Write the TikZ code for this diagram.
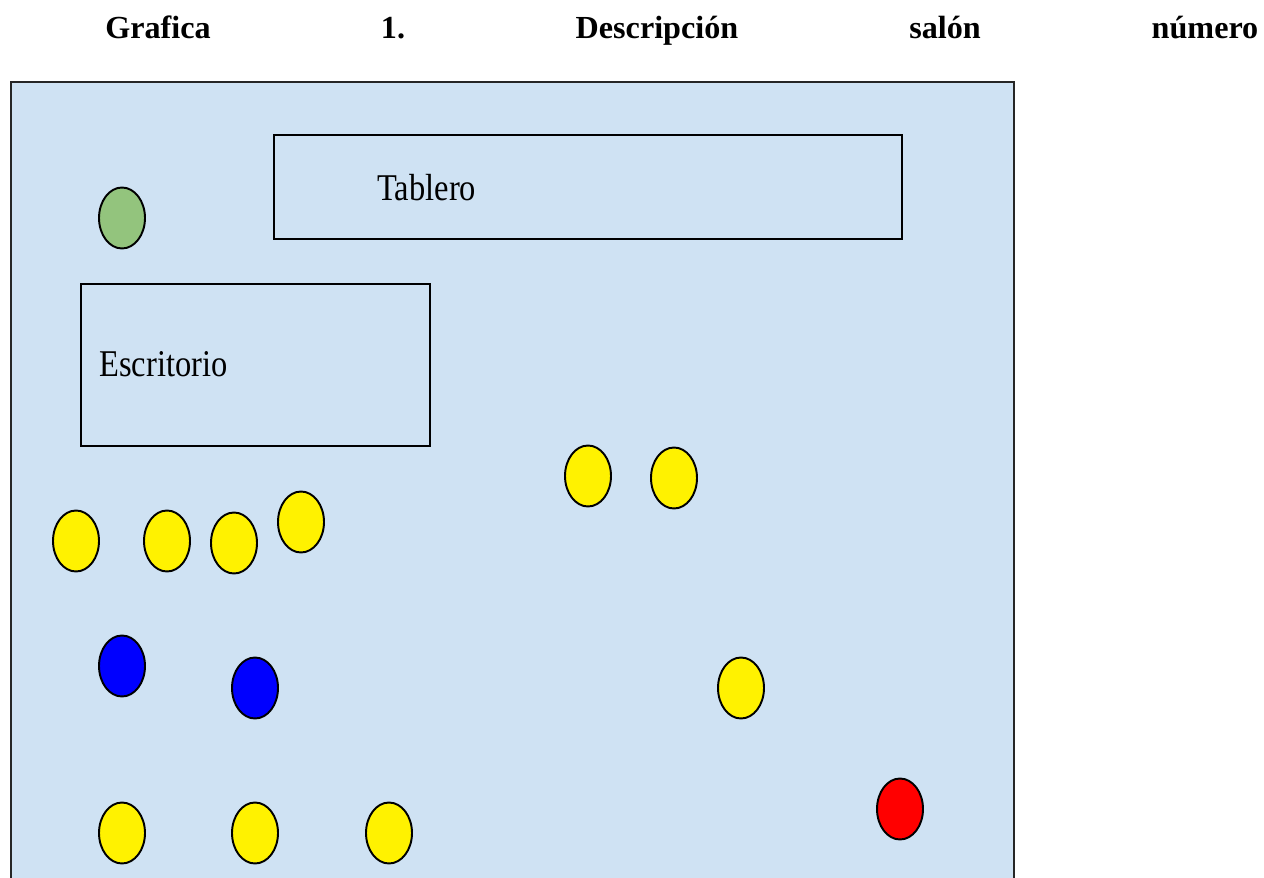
\documentclass[tikz,border=0pt]{standalone}
\usepackage{fontspec}
\setmainfont{Liberation Serif}
\newfontfamily\narrowserif[FakeStretch=0.86]{Liberation Serif}
\usepackage{tikz}
\usetikzlibrary{shapes.geometric}

\definecolor{roomblue}{RGB}{207,226,243}
\definecolor{teachergreen}{RGB}{147,196,125}

\begin{document}
\begin{tikzpicture}[
            x=0.02cm, y=-0.02cm,
            seat/.style={ellipse,draw,line width=1.1pt,minimum width=0.92cm,minimum height=1.22cm,inner sep=0pt},
            title word/.style={anchor=base,font=\fontsize{18.3}{22}\selectfont\bfseries},
            label text/.style={anchor=base west,inner sep=0pt,font=\narrowserif\fontsize{21.5}{26}\selectfont},
            furniture/.style={draw,line width=0.85pt},
            ]
            \useasboundingbox (0,0) rectangle (1264,878);

            % title
            \node[title word] (t1) at (158,39) {Grafica};
            \node[title word] (t2) at (393,39) {1.};
            \node[title word] (t3) at (657,39) {Descripción};
            \node[title word] (t4) at (945,39) {salón};
            \node[title word] (t5) at (1205,39) {número};

            % room
            \fill[roomblue] (11,82) rectangle (1014,878);
            \draw[line width=1.1pt, black!85] (11,878) |- (1014,82) -- (1014,878);

            % board and desk
            \draw[furniture] (274,135) rectangle (902,239);
            \node[label text] (board) at (377,201) {Tablero};
            \draw[furniture] (81,284) rectangle (430,446);
            \node[label text] (desk) at (99,377) {Escritorio};

            % teacher
            \node[seat, fill=teachergreen] (g1) at (122,218) {};

            % students
            \node[seat, fill=yellow] (y1) at (76,541) {};
            \node[seat, fill=yellow] (y2) at (167,541) {};
            \node[seat, fill=yellow] (y3) at (234,543) {};
            \node[seat, fill=yellow] (y4) at (301,522) {};
            \node[seat, fill=yellow] (y5) at (588,476) {};
            \node[seat, fill=yellow] (y6) at (674,478) {};
            \node[seat, fill=yellow] (y7) at (741,688) {};
            \node[seat, fill=yellow] (y8) at (122,833) {};
            \node[seat, fill=yellow] (y9) at (255,833) {};
            \node[seat, fill=yellow] (y10) at (389,833) {};
            \node[seat, fill=blue] (b1) at (122,666) {};
            \node[seat, fill=blue] (b2) at (255,688) {};
            \node[seat, fill=red] (r1) at (900,809) {};
        \end{tikzpicture}
\end{document}
